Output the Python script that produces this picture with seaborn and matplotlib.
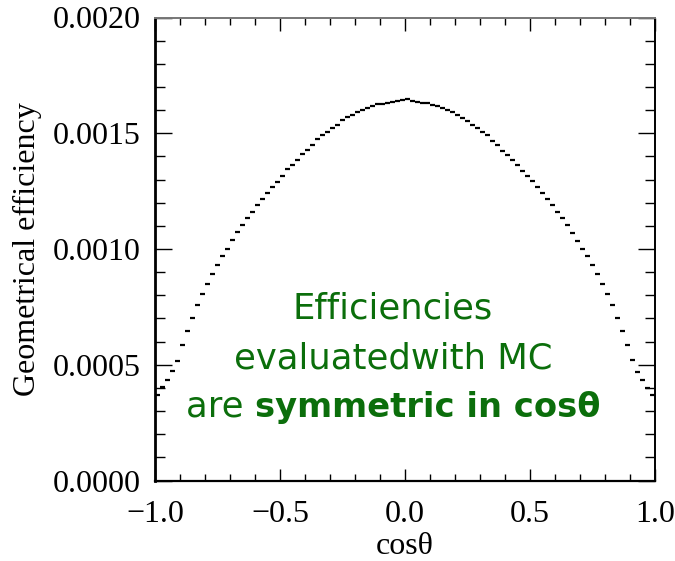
import numpy as np
import pandas as pd
import matplotlib
matplotlib.use("Agg")
import matplotlib.pyplot as plt
import seaborn as sns
from matplotlib.ticker import MultipleLocator, FormatStrFormatter

# ---- data ----
bin_lo = -1.0
bin_hi = 1.0
n_bins = 100
efficiency = [
    0.0003682, 0.0004028, 0.0004356, 0.0004732, 0.0005164, 0.0005843, 0.0006474, 0.0007035, 0.0007571, 0.0008060,
    0.0008492, 0.0008924, 0.0009300, 0.0009689, 0.0010017, 0.0010406, 0.0010739, 0.0011029, 0.0011331, 0.0011603,
    0.0011893, 0.0012178, 0.0012424, 0.0012671, 0.0012913, 0.0013146, 0.0013448, 0.0013621, 0.0013864, 0.0014110,
    0.0014296, 0.0014486, 0.0014745, 0.0014918, 0.0015060, 0.0015220, 0.0015363, 0.0015557, 0.0015696, 0.0015808,
    0.0015938, 0.0016011, 0.0016085, 0.0016184, 0.0016270, 0.0016283, 0.0016327, 0.0016370, 0.0016387, 0.0016422,
    0.0016474, 0.0016413, 0.0016357, 0.0016314, 0.0016314, 0.0016227, 0.0016171, 0.0016085, 0.0016024, 0.0015938,
    0.0015795, 0.0015653, 0.0015549, 0.0015376, 0.0015220, 0.0015060, 0.0014918, 0.0014684, 0.0014486, 0.0014252,
    0.0014053, 0.0013864, 0.0013621, 0.0013388, 0.0013146, 0.0012956, 0.0012671, 0.0012424, 0.0012152, 0.0011893,
    0.0011603, 0.0011331, 0.0011029, 0.0010696, 0.0010363, 0.0010017, 0.0009689, 0.0009313, 0.0008924, 0.0008492,
    0.0008060, 0.0007571, 0.0007035, 0.0006474, 0.0005843, 0.0005220, 0.0004689, 0.0004356, 0.0003984, 0.0003682,
]
x_ticks = [-1.0, -0.5, 0.0, 0.5, 1.0]
x_tick_labels = ["−1.0", "−0.5", "0.0", "0.5", "1.0"]
y_ticks = [0.0, 0.0005, 0.0010, 0.0015, 0.0020]
x_label = "cosθ"
y_label = "Geometrical efficiency"
note_lines = ["Efficiencies", "evaluatedwith MC"]
note_last_normal = "are "
note_last_bold = "symmetric in cosθ"

edges = np.linspace(bin_lo, bin_hi, n_bins + 1)
df = pd.DataFrame({"lo": edges[:-1], "hi": edges[1:], "eff": efficiency})

# ---- style ----
sns.set_style("ticks")
plt.rcParams["font.family"] = ["Liberation Serif", "DejaVu Serif"]
plt.rcParams["axes.labelcolor"] = "black"
plt.rcParams["text.color"] = "black"

fig = plt.figure(figsize=(6.75, 5.61), dpi=100)
ax = fig.add_axes([155 / 675, 1 - 480.5 / 561, 500 / 675, 463 / 561])

ax.hlines(df["eff"], df["lo"], df["hi"], colors="black", linewidth=1.6)

ax.set_xlim(bin_lo, bin_hi)
ax.set_ylim(0, 0.0020)
ax.set_xticks(x_ticks)
ax.set_yticks(y_ticks)
ax.xaxis.set_minor_locator(MultipleLocator(0.1))
ax.yaxis.set_minor_locator(MultipleLocator(0.0001))
ax.yaxis.set_major_formatter(FormatStrFormatter("%.4f"))
ax.set_xticklabels(x_tick_labels)

ax.tick_params(axis="both", which="both", direction="in", top=True, right=True,
               labelsize=23, colors="black")
ax.tick_params(axis="y", which="major", length=12, width=1.0, pad=10)
ax.tick_params(axis="y", which="minor", length=7, width=1.0)
ax.tick_params(axis="x", which="major", length=9, width=1.0, pad=14)
ax.tick_params(axis="x", which="minor", length=5, width=1.0)

for side, lw, col in [("left", 2.0, "black"), ("bottom", 1.6, "black"),
                      ("right", 1.4, "black"), ("top", 1.4, "#777777")]:
    ax.spines[side].set_visible(True)
    ax.spines[side].set_linewidth(lw)
    ax.spines[side].set_color(col)

ax.set_xlabel(x_label, fontsize=23, labelpad=2, color="black")
ax.set_ylabel(y_label, fontsize=23, labelpad=8, color="black")

# ---- annotation ----
green = "#0b6e0b"
sans = ["DejaVu Sans"]
fs = 25.5
cx = 0.476
ax.text(cx, 0.349, note_lines[0], transform=ax.transAxes, ha="center", va="baseline",
        fontsize=fs, color=green, family=sans)
ax.text(cx, 0.241, note_lines[1], transform=ax.transAxes, ha="center", va="baseline",
        fontsize=fs, color=green, family=sans)

t1 = ax.text(0, 0.138, note_last_normal, transform=ax.transAxes, ha="left", va="baseline",
             fontsize=fs, color=green, family=sans)
t2 = ax.text(0, 0.138, note_last_bold, transform=ax.transAxes, ha="left", va="baseline",
             fontsize=24.3, color=green, family=sans, fontweight="bold")
fig.canvas.draw()
r = fig.canvas.get_renderer()
w1 = t1.get_window_extent(r).width
w2 = t2.get_window_extent(r).width
axw = ax.get_window_extent(r).width
total = (w1 + w2) / axw
x0 = cx - total / 2
t1.set_x(x0)
t2.set_x(x0 + w1 / axw)

fig.savefig("out.png", dpi=100)
